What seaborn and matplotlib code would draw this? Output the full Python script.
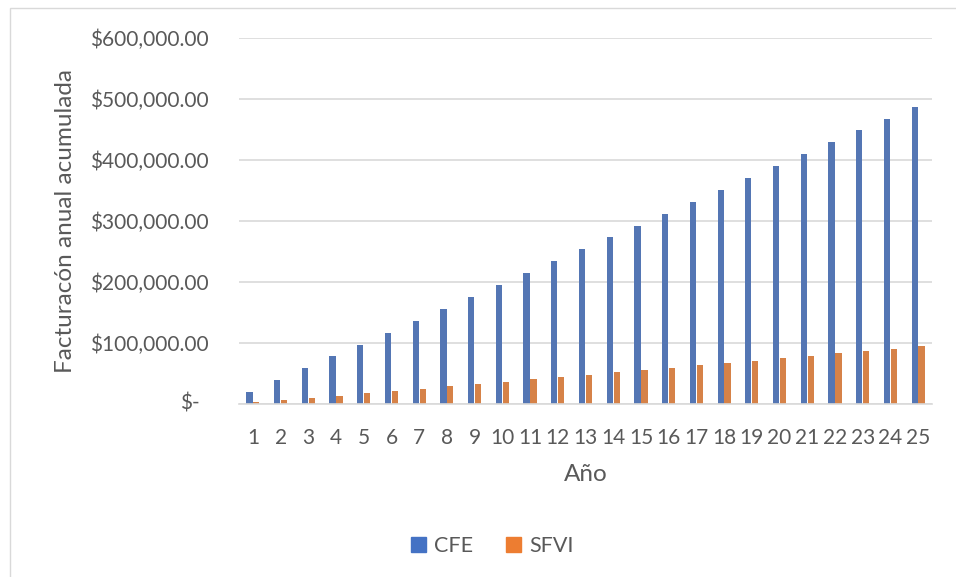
import matplotlib
matplotlib.use("Agg")
import matplotlib.pyplot as plt
import matplotlib.patches as mpatches
import seaborn as sns
import pandas as pd

# ===============================
# DATA
# ===============================
years = list(range(1, 26))
cfe = [19500, 39000, 58500, 78000, 97500, 117000, 136500, 156000, 175500, 195000,
       214500, 234000, 253500, 273000, 292500, 312000, 331500, 351000, 370500, 390000,
       409500, 429000, 448500, 468000, 487500]
sfvi = [2800, 5800, 9700, 13500, 17400, 21200, 25100, 28900, 32800, 36600,
        40500, 44300, 48200, 52000, 55900, 59700, 63600, 67400, 71300, 75100,
        79000, 82800, 86700, 90500, 94400]
series_names = ["CFE", "SFVI"]
colors = ["#4472C4", "#ED7D31"]
y_ticks = [0, 100000, 200000, 300000, 400000, 500000, 600000]
y_labels = ["$-", "$100,000.00", "$200,000.00", "$300,000.00",
            "$400,000.00", "$500,000.00", "$600,000.00"]

df = pd.DataFrame({"Año": years * 2,
                   "valor": cfe + sfvi,
                   "serie": ["CFE"] * 25 + ["SFVI"] * 25})

# ===============================
# PLOT
# ===============================
sns.set_style("white")
plt.rcParams["font.family"] = ["Lato", "DejaVu Sans"]
text_color = "#595959"
fs = 15

fig = plt.figure(figsize=(9.56, 5.77), dpi=100)
ax = fig.add_axes([239 / 956, 1 - 404 / 577, (932 - 239) / 956, (404 - 38) / 577])

sns.barplot(data=df, x="Año", y="valor", hue="serie", palette=colors,
            width=0.5, gap=0.1, ax=ax, legend=False, linewidth=0)

ax.set_ylim(0, 600000)
ax.set_yticks(y_ticks)
ax.set_yticklabels(["" if l == "$-" else l for l in y_labels])
ax.annotate("$-", xy=(0, 0), xycoords=("axes fraction", "data"),
            xytext=(-28.5, 0), textcoords="offset points",
            ha="right", va="center", fontsize=fs, color=text_color)
ax.yaxis.grid(True, color="#D9D9D9", lw=1.2)
ax.set_axisbelow(True)
for side in ["top", "right", "left"]:
    ax.spines[side].set_visible(False)
ax.spines["bottom"].set_color("#D9D9D9")
ax.spines["bottom"].set_linewidth(1.2)
ax.tick_params(axis="both", length=0, labelsize=fs, labelcolor=text_color)
ax.tick_params(axis="y", pad=22)
ax.tick_params(axis="x", pad=17)

ax.set_xlabel("Año", fontsize=17.5, color=text_color, labelpad=12)
ax.set_ylabel("Facturacón anual acumulada", fontsize=17.5, color=text_color, labelpad=10)

handles = [mpatches.Patch(color=c, label=n) for c, n in zip(colors, series_names)]
fig.legend(handles=handles, loc="center", bbox_to_anchor=(0.515, 1 - 546 / 577),
           ncol=2, frameon=False, fontsize=15.5, labelcolor=text_color,
           handlelength=0.7, handleheight=0.7, handletextpad=0.4, columnspacing=1.5)

# chart area border
fig.add_artist(mpatches.Rectangle((10 / 956, -0.1), 1.2, 1 - 8 / 577 + 0.1,
                                  transform=fig.transFigure, fill=False,
                                  edgecolor="#D9D9D9", lw=1))

fig.savefig("out.png", dpi=100)
